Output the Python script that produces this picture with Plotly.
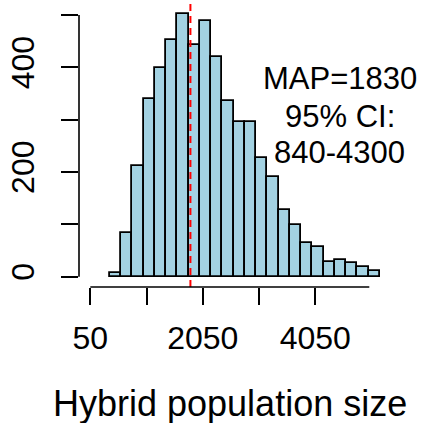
import plotly.graph_objects as go

# Posterior draws of hybrid population size, binned in steps of 200
bin_left = [400, 600, 800, 1000, 1200, 1400, 1600, 1800, 2000, 2200, 2400, 2600,
            2800, 3000, 3200, 3400, 3600, 3800, 4000, 4200, 4400, 4600, 4800, 5000]
bin_width = 200
counts = [8, 83, 212, 340, 399, 452, 502, 442, 488, 420, 336, 296,
          296, 227, 191, 127, 98, 65, 56, 29, 32, 27, 18, 11]

map_value = 1830
ci_low, ci_high = 840, 4300

x_tick_vals = [50, 1050, 2050, 3050, 4050]
x_tick_text = ["50", "", "2050", "", "4050"]
y_tick_vals = [0, 100, 200, 300, 400, 500]
y_tick_text = ["0", "", "200", "", "400", ""]
x_axis_end = 5010

FONT = "Liberation Sans, Arial, Helvetica, sans-serif"

centers = [b + bin_width / 2 for b in bin_left]

fig = go.Figure()
fig.add_trace(go.Bar(
    x=centers, y=counts, width=bin_width,
    marker=dict(color="rgb(163,210,226)", line=dict(color="black", width=1.8)),
    hoverinfo="skip",
))

# MAP marker
fig.add_shape(type="line", xref="x", yref="paper", x0=map_value, x1=map_value,
              y0=0, y1=1, line=dict(color="red", width=2, dash="7px,5px"),
              layer="above")

# axis lines spanning only the tick range
fig.add_shape(type="line", xref="x", yref="paper", x0=x_tick_vals[0], x1=x_axis_end,
              y0=0, y1=0, line=dict(color="black", width=1.6))
fig.add_shape(type="line", xref="paper", yref="y", x0=0, x1=0,
              y0=y_tick_vals[0], y1=y_tick_vals[-1], line=dict(color="black", width=1.6))

# MAP / credible interval text
for txt, yv in [(f"MAP={map_value}", 378), ("95% CI:", 306), (f"{ci_low}-{ci_high}", 238)]:
    fig.add_annotation(text=txt, x=4489, y=yv, xref="x", yref="y",
                       showarrow=False, xanchor="center", yanchor="middle",
                       font=dict(family=FONT, size=31, color="black"))

# x-axis title
fig.add_annotation(text="Hybrid population size", x=0.469, y=-0.41,
                   xref="paper", yref="paper", showarrow=False,
                   xanchor="center", yanchor="middle",
                   font=dict(family=FONT, size=36, color="black"))

fig.update_layout(
    width=421, height=423,
    margin=dict(l=79, r=21, t=4, b=136, pad=0),
    paper_bgcolor="white", plot_bgcolor="white",
    showlegend=False, bargap=0,
    xaxis=dict(range=[-151, 5556], tickvals=x_tick_vals, ticktext=x_tick_text,
               ticks="outside", ticklen=17, tickwidth=1.6, tickcolor="black",
               showline=False, zeroline=False, showgrid=False,
               tickfont=dict(family=FONT, size=32, color="black"),
               ticklabelstandoff=6),
    yaxis=dict(range=[-19.7, 521], tickvals=y_tick_vals, ticktext=y_tick_text,
               ticks="outside", ticklen=17, tickwidth=1.6, tickcolor="black",
               showline=False, zeroline=False, showgrid=False, tickangle=-90,
               tickfont=dict(family=FONT, size=32, color="black"),
               ticklabelstandoff=14),
)

fig.write_html("out.html")
